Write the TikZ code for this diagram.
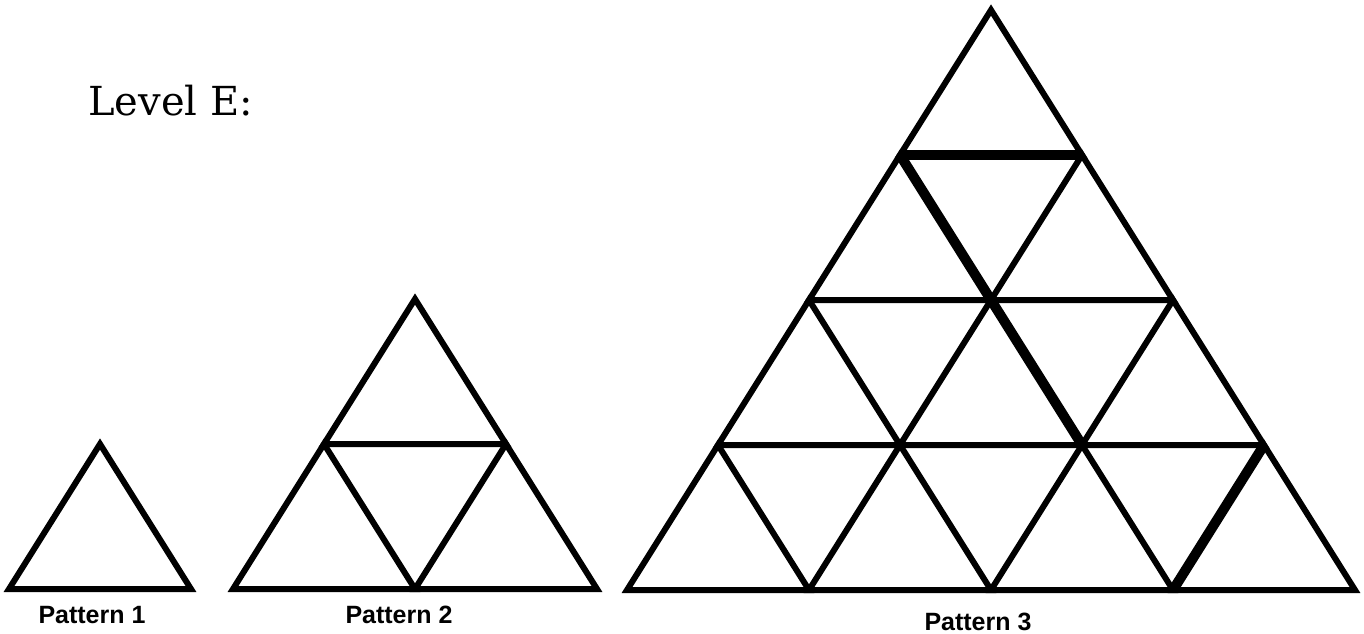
\documentclass[tikz,border=0pt]{standalone}
\usepackage{fontspec}
\setmainfont{Liberation Sans}
\newfontfamily\levelfont{DejaVu Serif}
\usetikzlibrary{calc}

\begin{document}
\begin{tikzpicture}[
      x=1pt, y=-1pt,
      edge/.style={line width=6pt, line join=miter},
      heavy/.style={line width=10pt, line join=miter},
      patlabel/.style={font=\fontsize{25}{30}\selectfont\bfseries, anchor=base}
  ]
      \useasboundingbox (0,0) rectangle (1364,633);

      % Pontos da malha de cada padrão (prefixo/ápice/linhas)
      \foreach \p/\ax/\ay/\n in {pa/100/444/1, pb/415/299/2, pc/991/10/4} {
          \foreach \r in {0,...,\n} {
              \foreach \k in {0,...,\r} {
                  \coordinate (\p-\r-\k) at ({\ax+(\k-\r/2)*182}, {\ay+\r*145});
              }
          }
      }

      % Triângulos pequenos (apontando para cima)
      \foreach \p/\n in {pa/1, pb/2, pc/4} {
          \pgfmathtruncatemacro\last{\n-1}
          \foreach \r in {0,...,\last} {
              \pgfmathtruncatemacro\rr{\r+1}
              \foreach \k in {0,...,\r} {
                  \pgfmathtruncatemacro\kk{\k+1}
                  \draw[edge] (\p-\r-\k) -- (\p-\rr-\k) -- (\p-\rr-\kk) -- cycle;
              }
          }
      }

      % Lados destacados no padrão 3
      \draw[heavy] (pc-1-0) -- (pc-1-1);
      \draw[heavy] (pc-1-0) -- (pc-2-1);
      \draw[heavy] (pc-2-1) -- (pc-3-2);
      \draw[heavy] (pc-3-3) -- (pc-4-3);

      % Rótulos
      \node[anchor=base west, inner sep=0pt, font=\levelfont\fontsize{40}{48}\selectfont] (title) at (88,115) {Level E:};
      \node[patlabel] (lab1) at (92,623) {Pattern 1};
      \node[patlabel] (lab2) at (399,623) {Pattern 2};
      \node[patlabel] (lab3) at (978,630) {Pattern 3};

  \end{tikzpicture}
\end{document}
